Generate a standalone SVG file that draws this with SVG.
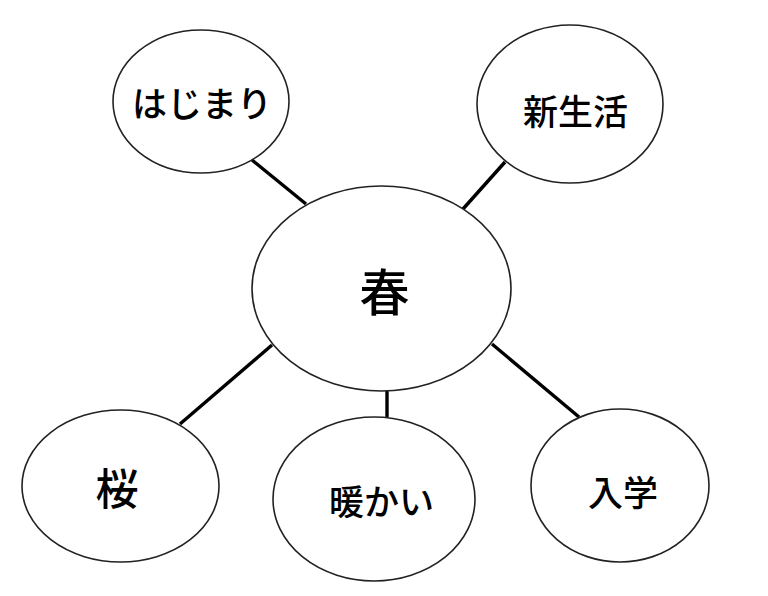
<svg xmlns="http://www.w3.org/2000/svg" width="768" height="596" viewBox="0 0 768 596">
<style>
.node ellipse{fill:#fff;stroke:#222;stroke-width:1.6}
.node text{font-family:"Noto Sans CJK JP","Noto Sans CJK SC",sans-serif;fill:#000;text-anchor:middle;dominant-baseline:central;font-size:35px;font-weight:500}
#connectors line{stroke:#000;stroke-width:3.4;stroke-linecap:butt}
</style>
<rect width="768" height="596" fill="#fff"/>
<g id="connectors">
<line x1="252" y1="160" x2="306" y2="204"/>
<line x1="505" y1="162" x2="463" y2="209"/>
<line x1="180" y1="424" x2="272" y2="345"/>
<line x1="387" y1="391" x2="387" y2="417"/>
<line x1="492" y1="344" x2="579" y2="417"/>
</g>
<g id="node-haru" class="node">
<ellipse cx="381.5" cy="288.5" rx="129.5" ry="102.5"/>
<text x="384.5" y="289" style="font-size:50px">春</text>
</g>
<g id="node-hajimari" class="node">
<ellipse cx="201" cy="101.5" rx="88" ry="71.5"/>
<text x="202" y="101">はじまり</text>
</g>
<g id="node-shinseikatsu" class="node">
<ellipse cx="570" cy="104" rx="93" ry="79"/>
<text x="575.5" y="109">新生活</text>
</g>
<g id="node-sakura" class="node">
<ellipse cx="120.5" cy="486" rx="98.5" ry="76"/>
<text x="117" y="486" style="font-size:43px">桜</text>
</g>
<g id="node-atatakai" class="node">
<ellipse cx="374" cy="499" rx="101" ry="82"/>
<text x="381.5" y="499">暖かい</text>
</g>
<g id="node-nyugaku" class="node">
<ellipse cx="620" cy="485.5" rx="89" ry="76.5"/>
<text x="623" y="490">入学</text>
</g>
</svg>
